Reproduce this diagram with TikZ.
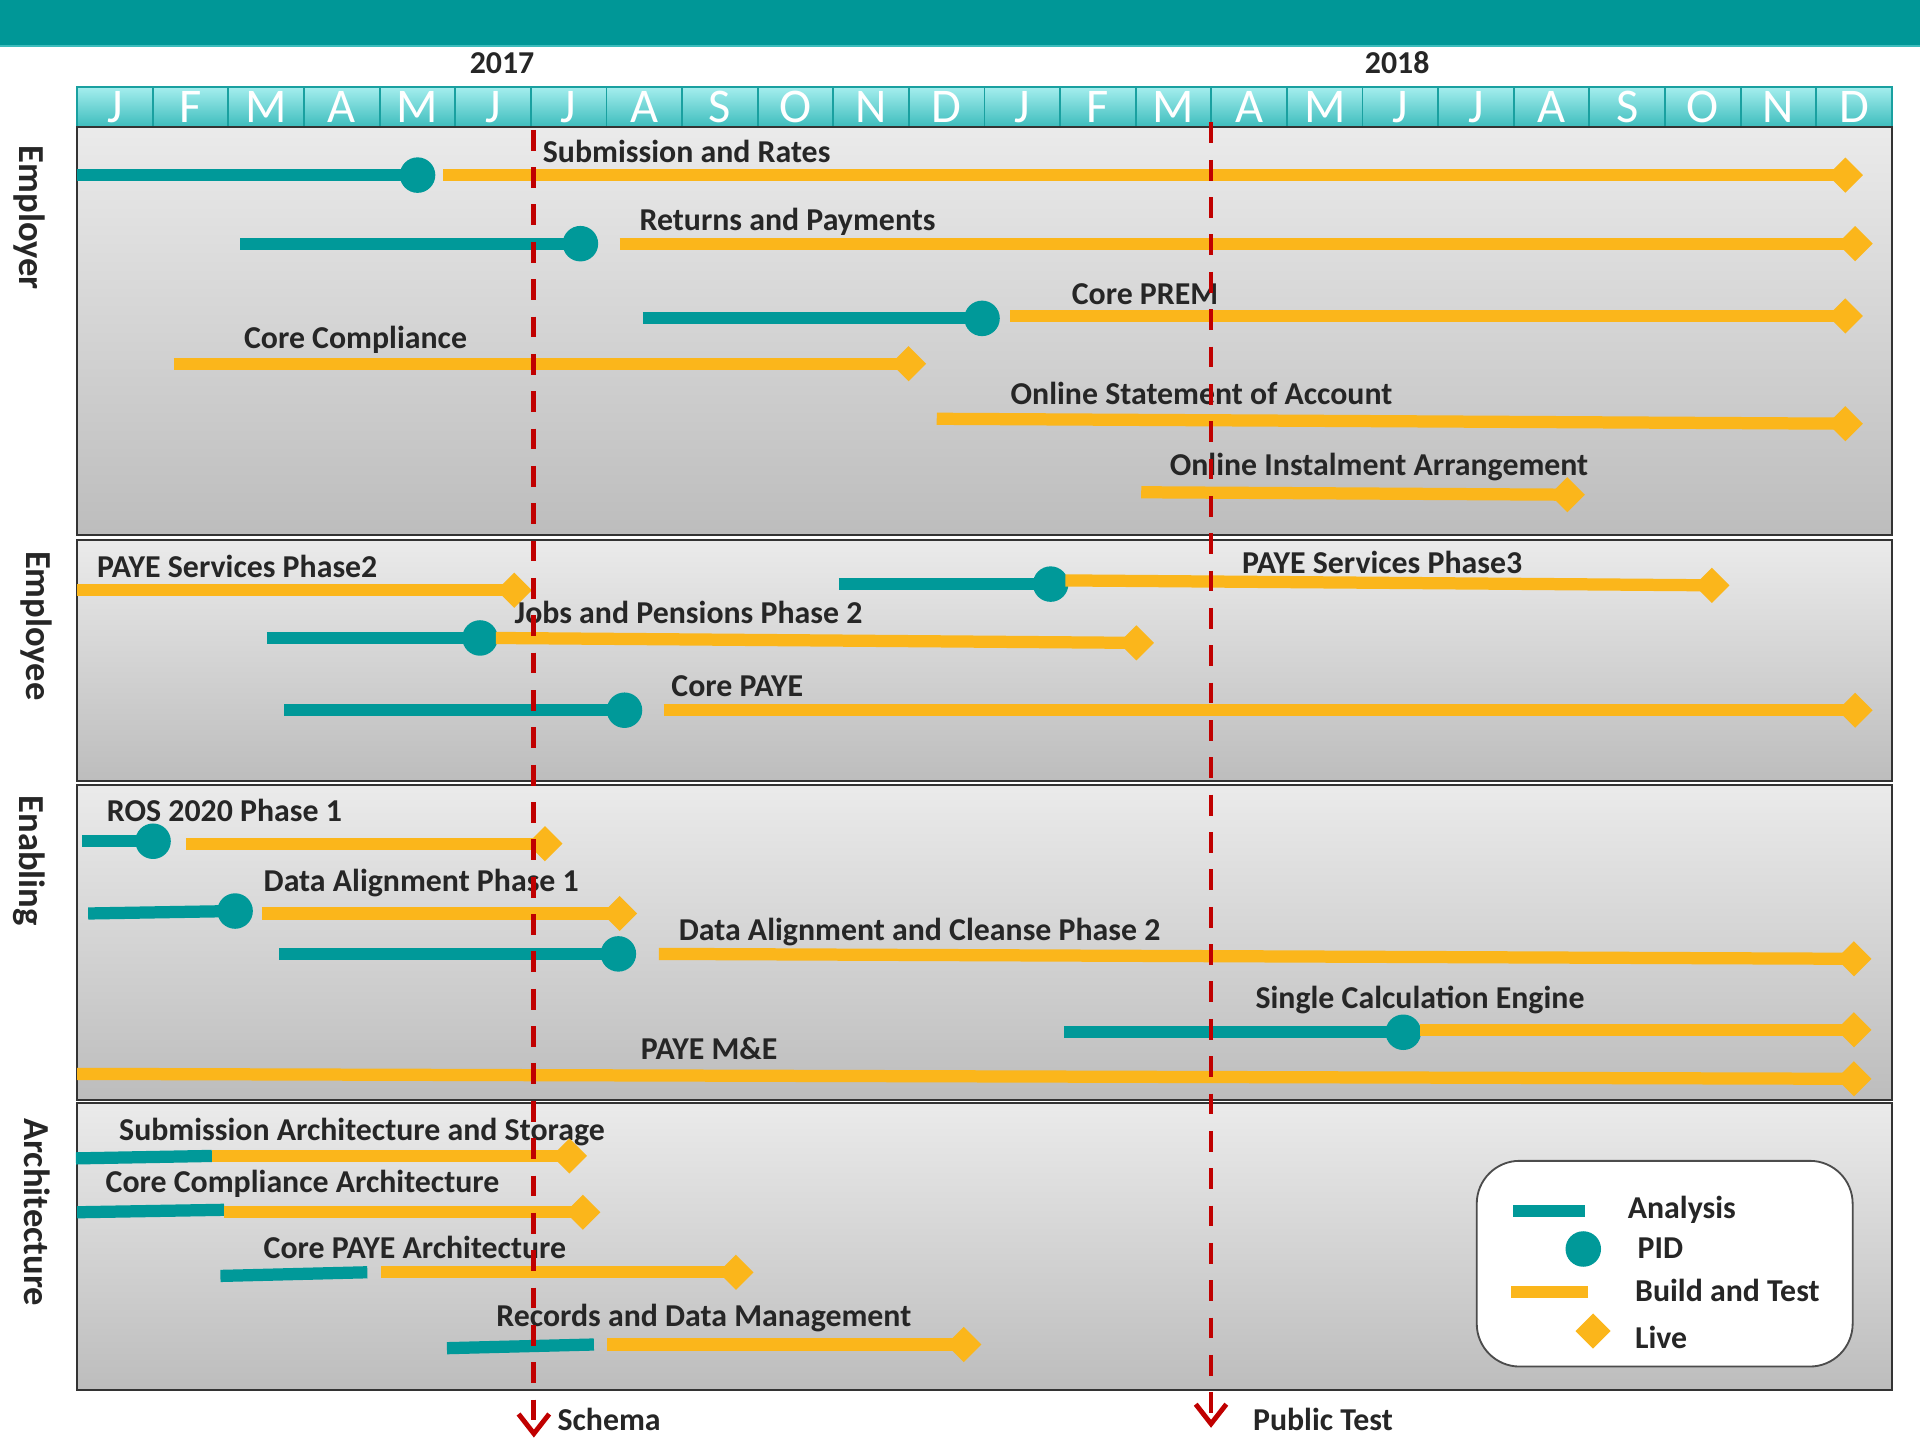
\documentclass[tikz,border=0pt]{standalone}
\usepackage{fontspec}
\setmainfont{Carlito}
\usetikzlibrary{shapes.geometric,arrows.meta}

\definecolor{bandteal}{RGB}{0,151,151}
\definecolor{anteal}{RGB}{0,153,153}
\definecolor{bdyellow}{RGB}{251,182,27}
\definecolor{msred}{RGB}{192,0,0}
\definecolor{txtgray}{RGB}{38,38,38}
\definecolor{celltop}{RGB}{165,238,238}
\definecolor{cellbot}{RGB}{60,188,188}
\definecolor{cellline}{RGB}{25,160,160}

\begin{document}
\begin{tikzpicture}[x=0.2mm, y=-0.2mm,
    analysis/.style={draw=anteal, line width=2mm},
    build/.style={draw=bdyellow, line width=2mm},
    pid/.style={circle, fill=anteal, minimum size=5.8mm, inner sep=0pt},
    live/.style={diamond, fill=bdyellow, minimum size=5.8mm, inner sep=0pt},
    task/.style={anchor=base west, inner sep=0pt, text=txtgray,
        font=\fontsize{14.8}{17}\selectfont\bfseries},
    lane/.style={draw=black!80, line width=0.35mm, top color=black!8,
        middle color=black!13, bottom color=black!26},
    month/.style={draw=cellline, line width=0.3mm, top color=celltop,
        bottom color=cellbot, minimum width=12.35mm, minimum height=6.6mm,
        inner sep=0pt, text=white, font=\fontsize{22.5}{24}\selectfont},
    side/.style={rotate=-90, text=txtgray, font=\fontsize{17}{20}\selectfont\bfseries},
    milestone/.style={draw=msred, line width=0.8mm, dash pattern=on 3.4mm off 2.7mm,
        -{Straight Barb[length=3.2mm, width=5mm]}}]

    \useasboundingbox (0,0) rectangle (1568,1176);

    % title band
    \fill[bandteal] (0,0) rectangle (1568,37);
    \draw[cellbot, line width=0.3mm] (0,37.5) -- (1568,37.5);

    % years and months
    \node[task, anchor=base] (y2017) at (410,60) {2017};
    \node[task, anchor=base] (y2018) at (1141,60) {2018};
    \foreach \m [count=\i from 0] in {J,F,M,A,M,J,J,A,S,O,N,D,J,F,M,A,M,J,J,A,S,O,N,D}
        \node[month] (m\i) at (63+61.75*\i+30.875,87.5) {\m};

    % lanes
    \draw[lane] (63,104) rectangle (1545,437);
    \draw[lane] (63,441) rectangle (1545,638);
    \draw[lane] (63,641) rectangle (1545,898);
    \draw[lane] (63,901) rectangle (1545,1135);
    \node[side] (employer) at (24,178) {Employer};
    \node[side] (employee) at (30,511) {Employee};
    \node[side] (enabling) at (24,703) {Enabling};
    \node[side] (architecture) at (30,990) {Architecture};

    % employer
    \node[task] (srt) at (443,133) {Submission and Rates};
    \coordinate (sra) at (63,143);
    \node[pid] (srp) at (341,143) {};
    \coordinate (srb) at (362,143);
    \node[live] (srl) at (1507,143) {};
    \draw[analysis] (sra) -- (srp.center);
    \draw[build] (srb) -- (srl.center);

    \node[task] (rpt) at (522,188) {Returns and Payments};
    \coordinate (rpa) at (196,199);
    \node[pid] (rpp) at (474,199) {};
    \coordinate (rpb) at (506,199);
    \node[live] (rpl) at (1515,199) {};
    \draw[analysis] (rpa) -- (rpp.center);
    \draw[build] (rpb) -- (rpl.center);

    \node[task] (prt) at (875,249) {Core PREM};
    \coordinate (pra) at (525,260);
    \node[pid] (prp) at (802,260) {};
    \coordinate (prb) at (825,258);
    \node[live] (prl) at (1507,258) {};
    \draw[analysis] (pra) -- (prp.center);
    \draw[build] (prb) -- (prl.center);

    \node[task] (cct) at (199,285) {Core Compliance};
    \coordinate (ccb) at (142,297);
    \node[live] (ccl) at (742,297) {};
    \draw[build] (ccb) -- (ccl.center);

    \node[task] (osat) at (825,330) {Online Statement of Account};
    \coordinate (osab) at (765,342);
    \node[live] (osal) at (1507,346) {};
    \draw[build] (osab) -- (osal.center);

    \node[task] (oiat) at (955,388) {Online Instalment Arrangement};
    \coordinate (oiab) at (932,402);
    \node[live] (oial) at (1280,404) {};
    \draw[build] (oiab) -- (oial.center);

    % employee
    \node[task] (ps2t) at (79,472) {PAYE Services Phase2};
    \coordinate (ps2b) at (63,482);
    \node[live] (ps2l) at (420,482) {};
    \draw[build] (ps2b) -- (ps2l.center);

    \node[task] (ps3t) at (1014,468) {PAYE Services Phase3};
    \coordinate (ps3a) at (685,477);
    \node[pid] (ps3p) at (858,477) {};
    \coordinate (ps3b) at (870,474);
    \node[live] (ps3l) at (1398,478) {};
    \draw[analysis] (ps3a) -- (ps3p.center);
    \draw[build] (ps3b) -- (ps3l.center);

    \node[task] (jpt) at (420,509) {Jobs and Pensions Phase 2};
    \coordinate (jpa) at (218,521);
    \node[pid] (jpp) at (392,521) {};
    \coordinate (jpb) at (405,521);
    \node[live] (jpl) at (928,525) {};
    \draw[build] (jpb) -- (jpl.center);
    \draw[analysis] (jpa) -- (jpp.center);

    \node[task] (cpt) at (548,569) {Core PAYE};
    \coordinate (cpa) at (232,580);
    \node[pid] (cpp) at (510,580) {};
    \coordinate (cpb) at (542,580);
    \node[live] (cpl) at (1515,580) {};
    \draw[analysis] (cpa) -- (cpp.center);
    \draw[build] (cpb) -- (cpl.center);

    % enabling
    \node[task] (rost) at (87,671) {ROS 2020 Phase 1};
    \coordinate (rosa) at (67,687);
    \node[pid] (rosp) at (125,687) {};
    \coordinate (rosb) at (152,689);
    \node[live] (rosl) at (445,689) {};
    \draw[analysis] (rosa) -- (rosp.center);
    \draw[build] (rosb) -- (rosl.center);

    \node[task] (da1t) at (215,728) {Data Alignment Phase 1};
    \coordinate (da1a) at (72,746);
    \node[pid] (da1p) at (192,744) {};
    \coordinate (da1b) at (214,746);
    \node[live] (da1l) at (506,746) {};
    \draw[analysis] (da1a) -- (da1p.center);
    \draw[build] (da1b) -- (da1l.center);

    \node[task] (da2t) at (554,768) {Data Alignment and Cleanse Phase 2};
    \coordinate (da2a) at (228,779);
    \node[pid] (da2p) at (505,779) {};
    \coordinate (da2b) at (538,779);
    \node[live] (da2l) at (1514,783) {};
    \draw[analysis] (da2a) -- (da2p.center);
    \draw[build] (da2b) -- (da2l.center);

    \node[task] (scet) at (1025,824) {Single Calculation Engine};
    \coordinate (scea) at (869,843);
    \node[pid] (scep) at (1146,843) {};
    \coordinate (sceb) at (1160,841);
    \node[live] (scel) at (1514,841) {};
    \draw[build] (sceb) -- (scel.center);
    \draw[analysis] (scea) -- (scep.center);

    \node[task] (pmet) at (523,865) {PAYE M\&E};
    \coordinate (pmeb) at (63,877);
    \node[live] (pmel) at (1514,881) {};
    \draw[build] (pmeb) -- (pmel.center);

    % architecture
    \node[task] (sast) at (97,931) {Submission Architecture and Storage};
    \coordinate (sasa) at (62,946);
    \coordinate (sasb) at (173,944);
    \node[live] (sasl) at (465,944) {};
    \draw[analysis] (sasa) -- (sasb);
    \draw[build] (sasb) -- (sasl.center);

    \node[task] (ccat) at (86,974) {Core Compliance Architecture};
    \coordinate (ccaa) at (63,990);
    \coordinate (ccab) at (183,988);
    \coordinate (ccac) at (183,990);
    \node[live] (ccal) at (476,990) {};
    \draw[analysis] (ccaa) -- (ccab);
    \draw[build] (ccac) -- (ccal.center);

    \node[task] (cpat) at (215,1028) {Core PAYE Architecture};
    \coordinate (cpaa) at (180,1042);
    \coordinate (cpab) at (300,1039);
    \coordinate (cpac) at (311,1039);
    \node[live] (cpal) at (601,1039) {};
    \draw[analysis] (cpaa) -- (cpab);
    \draw[build] (cpac) -- (cpal.center);

    \node[task] (rdmt) at (405,1083) {Records and Data Management};
    \coordinate (rdma) at (365,1101);
    \coordinate (rdmb) at (485,1098);
    \coordinate (rdmc) at (496,1098);
    \node[live] (rdml) at (787,1098) {};
    \draw[analysis] (rdma) -- (rdmb);
    \draw[build] (rdmc) -- (rdml.center);

    % legend
    \draw[draw=black!70, line width=0.3mm, fill=white, rounded corners=7mm]
        (1206,948) rectangle (1513,1116);
    \draw[analysis] (1236,989) -- (1294,989);
    \node[pid] (lgpid) at (1293,1020) {};
    \draw[build] (1234,1055) -- (1297,1055);
    \node[live] (lglive) at (1301,1087) {};
    \node[task] (lga) at (1329,995) {Analysis};
    \node[task] (lgp) at (1337,1028) {PID};
    \node[task] (lgb) at (1335,1063) {Build and Test};
    \node[task] (lgl) at (1335,1101) {Live};

    % milestones
    \coordinate (sch0) at (436,106);
    \coordinate (sch1) at (436,1174);
    \draw[milestone] (sch0) -- (sch1);
    \node[task] (scht) at (455,1168) {Schema};
    \coordinate (pub0) at (989,100);
    \coordinate (pub1) at (989,1166);
    \draw[milestone] (pub0) -- (pub1);
    \node[task] (pubt) at (1023,1168) {Public Test};
\end{tikzpicture}
\end{document}
